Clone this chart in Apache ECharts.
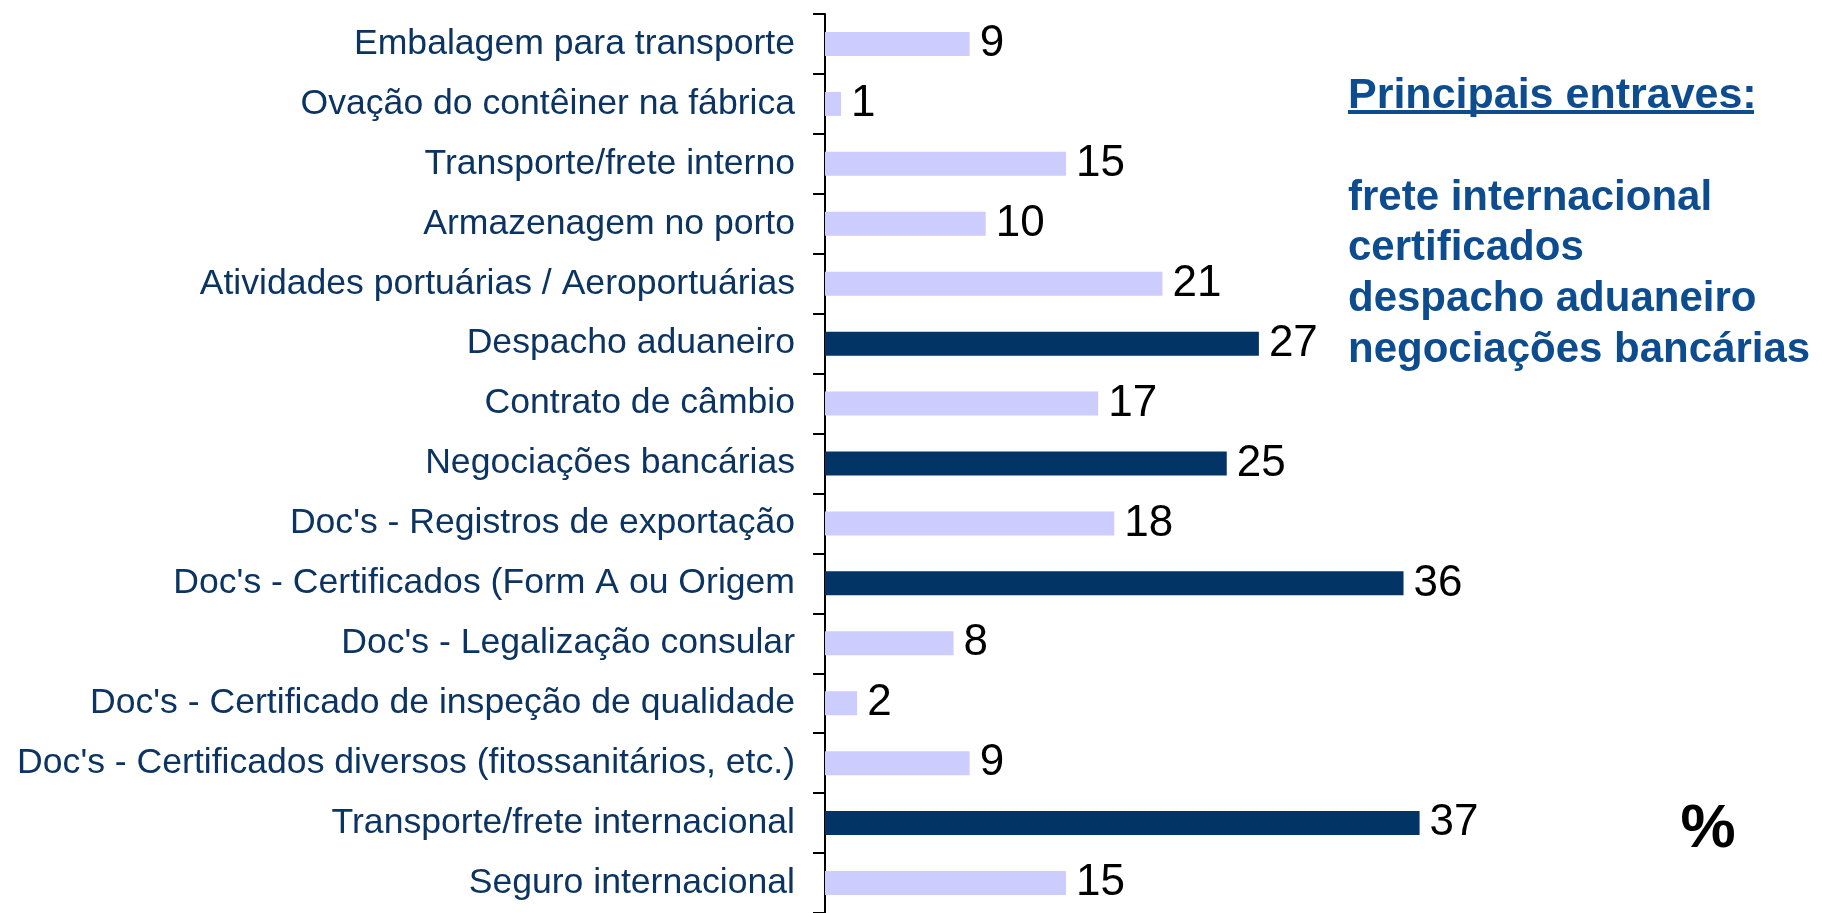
<!DOCTYPE html>
<html>
<head>
<meta charset="utf-8">
<title>Entraves</title>
<script src="https://cdn.jsdelivr.net/npm/echarts@6/dist/echarts.min.js"></script>
<style>
    html, body { margin: 0; padding: 0; background: #fff; }
    #echarts { width: 1822px; height: 913px; }
</style>
</head>
<body>
<div id="echarts"></div>
<script>
// categorias (de cima para baixo)
var categorias = [
    'Embalagem para transporte',
    'Ovação do contêiner na fábrica',
    'Transporte/frete interno',
    'Armazenagem no porto',
    'Atividades portuárias / Aeroportuárias',
    'Despacho aduaneiro',
    'Contrato de câmbio',
    'Negociações bancárias',
    "Doc's - Registros de exportação",
    "Doc's - Certificados (Form A ou Origem",
    "Doc's - Legalização consular",
    "Doc's - Certificado de inspeção de qualidade",
    "Doc's - Certificados diversos (fitossanitários, etc.)",
    'Transporte/frete internacional',
    'Seguro internacional'
];
// percentuais
var valores = [9, 1, 15, 10, 21, 27, 17, 25, 18, 36, 8, 2, 9, 37, 15];
// principais entraves (barras escuras)
var destaques = [
    'Despacho aduaneiro',
    'Negociações bancárias',
    "Doc's - Certificados (Form A ou Origem",
    'Transporte/frete internacional'
];
var tituloEntraves = 'Principais entraves:';
var listaEntraves = ['frete internacional', 'certificados', 'despacho aduaneiro', 'negociações bancárias'];

var fonte = '"Liberation Sans", Arial, sans-serif';
var corEscura = '#023466';
var corClara = '#ccccff';
var corTexto = '#0d4d8f';

var myChart = echarts.init(document.getElementById('echarts'));

var dados = [];
for (var i = 0; i < valores.length; i++) {
    dados.push({
        value: valores[i],
        itemStyle: { color: destaques.indexOf(categorias[i]) >= 0 ? corEscura : corClara }
    });
}

// textos do lado direito
var graficos = [{
    type: 'text',
    x: 1348,
    y: 96,
    style: {
        text: tituloEntraves,
        font: 'bold 43px ' + fonte,
        fill: corTexto,
        verticalAlign: 'middle'
    }
}, {
    type: 'rect',
    shape: { x: 1348, y: 110, width: 406, height: 4 },
    style: { fill: corTexto }
}];
for (var j = 0; j < listaEntraves.length; j++) {
    graficos.push({
        type: 'text',
        x: 1348,
        y: 198 + j * 50.8,
        style: {
            text: listaEntraves[j],
            font: 'bold 42px ' + fonte,
            fill: corTexto,
            verticalAlign: 'middle'
        }
    });
}
graficos.push({
    type: 'text',
    x: 1708,
    y: 830,
    style: {
        text: '%',
        font: 'bold 62px ' + fonte,
        fill: '#000',
        align: 'center',
        verticalAlign: 'middle'
    }
});

var option = {
    animation: false,
    backgroundColor: '#fff',
    grid: {
        left: 825,
        top: 14,
        width: 803.5,
        bottom: -3,
        containLabel: false
    },
    xAxis: {
        type: 'value',
        min: 0,
        max: 50,
        show: false
    },
    yAxis: {
        type: 'category',
        data: categorias,
        inverse: true,
        axisLine: { show: true, lineStyle: { color: '#000', width: 2 } },
        axisTick: { show: true, length: 12, lineStyle: { color: '#000', width: 2 } },
        axisLabel: {
            margin: 30,
            fontSize: 35.6,
            fontFamily: fonte,
            color: '#0b3463',
            padding: [4, 0, 0, 0]
        },
        splitLine: { show: false }
    },
    series: [{
        type: 'bar',
        barWidth: 24,
        data: dados,
        label: {
            show: true,
            position: 'right',
            distance: 10,
            fontSize: 44,
            fontFamily: fonte,
            color: '#000'
        }
    }],
    graphic: graficos
};

myChart.setOption(option);
</script>
</body>
</html>
